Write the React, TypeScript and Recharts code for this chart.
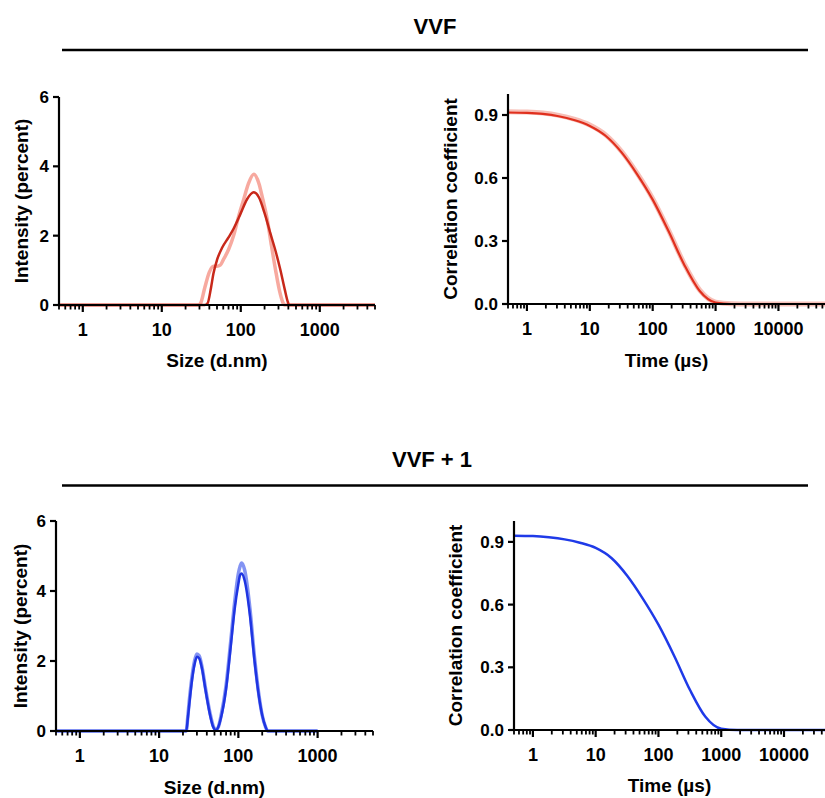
import React from 'react';
import { LineChart, Line, XAxis, YAxis } from 'recharts';

const FONT = '"Liberation Sans", Arial, Helvetica, sans-serif';

// ---- size distribution, VVF (replicates) ----
const vvfSizeA = [0.5, 35, 38, 42, 45, 50, 58, 70, 81, 100, 120, 146, 170, 200, 238, 280, 318, 360, 395, 410, 5000];
const vvfIntA = [0, 0, 0.05, 0.5, 0.9, 1.3, 1.65, 1.95, 2.2, 2.65, 3.05, 3.25, 3.1, 2.65, 2.05, 1.5, 1.0, 0.45, 0.08, 0, 0];
const vvfSizeB = [0.5, 29, 31, 35, 40, 45, 50, 55, 60, 70, 81, 95, 109, 125, 146, 170, 190, 215, 245, 276, 310, 340, 355, 5000];
const vvfIntB = [0, 0, 0.05, 0.5, 0.95, 1.12, 1.12, 1.15, 1.3, 1.6, 2.0, 2.6, 3.05, 3.5, 3.77, 3.5, 3.05, 2.5, 1.7, 1.0, 0.4, 0.08, 0, 0];

// ---- correlation, VVF ----
const vvfTime = [0.5, 1, 1.8, 3.2, 5.6, 10, 18, 32, 56, 100, 180, 320, 560, 1000, 1800, 3200, 55000];
const vvfCorrA = [0.912, 0.91, 0.905, 0.894, 0.876, 0.848, 0.8, 0.722, 0.62, 0.497, 0.345, 0.185, 0.062, 0.007, 0, 0, 0];
const vvfCorrB = [0.916, 0.914, 0.909, 0.898, 0.88, 0.852, 0.804, 0.726, 0.624, 0.501, 0.349, 0.189, 0.066, 0.009, 0.001, 0, 0];

// ---- size distribution, VVF + 1 ----
const cpxSize = [0.5, 22, 23, 24, 26, 28, 30, 32, 35, 38, 40, 44, 48, 52, 56, 60, 70, 80, 90, 100, 105, 110, 120, 140, 160, 180, 200, 220, 235, 1000];
const cpxIntA = [0, 0, 0.35, 0.75, 1.45, 1.9, 2.12, 2.08, 1.75, 1.25, 0.95, 0.45, 0.12, 0.02, 0.12, 0.35, 1.2, 2.4, 3.5, 4.2, 4.45, 4.5, 4.3, 3.3, 2.0, 1.05, 0.45, 0.12, 0, 0];
const cpxIntB = [0, 0, 0.4, 0.85, 1.55, 2.0, 2.2, 2.15, 1.8, 1.3, 1.0, 0.5, 0.15, 0.03, 0.12, 0.4, 1.3, 2.55, 3.7, 4.5, 4.7, 4.8, 4.6, 3.5, 2.1, 1.1, 0.45, 0.12, 0, 0];

// ---- correlation, VVF + 1 ----
const cpxTime = [0.5, 1, 1.8, 3.2, 5.6, 10, 18, 32, 56, 100, 180, 320, 560, 1000, 1800, 3200, 45000];
const cpxCorr = [0.93, 0.928, 0.922, 0.912, 0.896, 0.871, 0.822, 0.737, 0.63, 0.504, 0.352, 0.19, 0.063, 0.006, 0, 0, 0];

// ---- axis ticks ----
const sizeMajor = [1, 10, 100, 1000];
const timeMajor = [1, 10, 100, 1000, 10000];
const intensityTicks = [0, 2, 4, 6];
const corrTicks = [0, 0.3, 0.6, 0.9];

const withMinor = (majors: number[], lo: number, hi: number) => {
  const out: number[] = [];
  for (const m of [majors[0] / 10, ...majors]) {
    for (let k = 1; k <= 9; k++) {
      const t = +(m * k).toPrecision(6);
      if (t >= lo && t <= hi) out.push(t);
    }
  }
  return out;
};

const pts = (xs: number[], ys: number[]) => xs.map((x, i) => ({ x, y: ys[i] }));

function LogTick(props: any) {
  const { x, y, payload, majors } = props;
  const v = payload.value as number;
  const major = majors.includes(v);
  return (
    <g>
      <line x1={x} x2={x} y1={y} y2={y + (major ? 7 : 4.5)} stroke="#000" strokeWidth={major ? 2.2 : 1.8} />
      {major && (
        <text x={x} y={y + 31} textAnchor="middle" fontSize={18} fontWeight={700} fontFamily={FONT} fill="#000">
          {String(v)}
        </text>
      )}
    </g>
  );
}

interface Series {
  data: { x: number; y: number }[];
  color: string;
  width: number;
  opacity?: number;
}

interface PanelProps {
  left: number;
  top: number;
  width: number;
  height: number;
  marginTop: number;
  marginRight: number;
  yWidth: number;
  xDomain: [number, number];
  majors: number[];
  yDomain: [number, number];
  yTicks: number[];
  yFmt?: (v: number) => string;
  xLabel: string;
  yLabel: string;
  yLabelOffset: number;
  xLabelOffset: number;
  series: Series[];
}

function Panel(p: PanelProps) {
  const ticks = withMinor(p.majors, p.xDomain[0], p.xDomain[1]);
  return (
    <div style={{ position: 'absolute', left: p.left, top: p.top }}>
      <LineChart
        width={p.width}
        height={p.height}
        margin={{ top: p.marginTop, right: p.marginRight, bottom: 0, left: 0 }}
      >
        <XAxis
          type="number"
          scale="log"
          dataKey="x"
          domain={p.xDomain}
          ticks={ticks}
          interval={0}
          tickLine={false}
          tickSize={0}
          tickMargin={0}
          height={70}
          axisLine={{ stroke: '#000', strokeWidth: 2.2 }}
          tick={(tp: any) => <LogTick {...tp} majors={p.majors} />}
          label={{
            value: p.xLabel,
            position: 'insideBottom',
            offset: p.xLabelOffset,
            style: { fontSize: 19, fontWeight: 700, fill: '#000', fontFamily: FONT },
          }}
        />
        <YAxis
          type="number"
          domain={p.yDomain}
          ticks={p.yTicks}
          width={p.yWidth}
          tickSize={6}
          tickMargin={4}
          tickFormatter={p.yFmt}
          axisLine={{ stroke: '#000', strokeWidth: 2.2 }}
          tickLine={{ stroke: '#000', strokeWidth: 2.2 }}
          tick={{ fill: '#000', fontSize: 17, fontWeight: 700, fontFamily: FONT }}
          label={{
            value: p.yLabel,
            angle: -90,
            position: 'insideLeft',
            offset: p.yLabelOffset,
            style: { textAnchor: 'middle', fontSize: 19, fontWeight: 700, fill: '#000', fontFamily: FONT },
          }}
        />
        {p.series.map((s, i) => (
          <Line
            key={i}
            data={s.data}
            dataKey="y"
            type="monotone"
            stroke={s.color}
            strokeWidth={s.width}
            strokeOpacity={s.opacity ?? 1}
            dot={false}
            activeDot={false}
            isAnimationActive={false}
          />
        ))}
      </LineChart>
    </div>
  );
}

export default function App() {
  const fmt1 = (v: number) => v.toFixed(1);
  return (
    <div style={{ position: 'absolute', left: 0, top: 0, width: 825, height: 798, background: '#fff', fontFamily: FONT }}>
      <svg width={825} height={798} style={{ position: 'absolute', left: 0, top: 0 }}>
        <text x={435} y={33.5} textAnchor="middle" fontSize={22} fontWeight={700} fontFamily={FONT} fill="#000">
          VVF
        </text>
        <line x1={62} x2={808} y1={50} y2={50} stroke="#000" strokeWidth={2.5} />
        <text x={432} y={467} textAnchor="middle" fontSize={22} fontWeight={700} fontFamily={FONT} fill="#000">
          VVF + 1
        </text>
        <line x1={62} x2={808} y1={485.5} y2={485.5} stroke="#000" strokeWidth={2.5} />
      </svg>

      <Panel
        left={0}
        top={80}
        width={390}
        height={295}
        marginTop={17}
        marginRight={15}
        yWidth={59}
        xDomain={[0.5, 5000]}
        majors={sizeMajor}
        yDomain={[0, 6]}
        yTicks={intensityTicks}
        xLabel="Size (d.nm)"
        yLabel="Intensity (percent)"
        yLabelOffset={21}
        xLabelOffset={8}
        series={[
          { data: pts(vvfSizeB, vvfIntB), color: '#f6a095', width: 3.5, opacity: 0.9 },
          { data: pts(vvfSizeA, vvfIntA), color: '#c8281a', width: 2.5 },
        ]}
      />

      <Panel
        left={420}
        top={80}
        width={405}
        height={294}
        marginTop={14}
        marginRight={0}
        yWidth={88}
        xDomain={[0.5, 55000]}
        majors={timeMajor}
        yDomain={[0, 1]}
        yTicks={corrTicks}
        yFmt={fmt1}
        xLabel="Time (µs)"
        yLabel="Correlation coefficient"
        yLabelOffset={30}
        xLabelOffset={7}
        series={[
          { data: pts(vvfTime, vvfCorrB), color: '#f08a7c', width: 5, opacity: 0.55 },
          { data: pts(vvfTime, vvfCorrA), color: '#e0301e', width: 2.2 },
        ]}
      />

      <Panel
        left={0}
        top={500}
        width={388}
        height={301}
        marginTop={21}
        marginRight={15}
        yWidth={56}
        xDomain={[0.5, 5000]}
        majors={sizeMajor}
        yDomain={[0, 6]}
        yTicks={intensityTicks}
        xLabel="Size (d.nm)"
        yLabel="Intensity (percent)"
        yLabelOffset={20}
        xLabelOffset={7}
        series={[
          { data: pts(cpxSize, cpxIntB), color: '#6478f0', width: 3.5, opacity: 0.8 },
          { data: pts(cpxSize, cpxIntA), color: '#1f35e2', width: 2.5 },
        ]}
      />

      <Panel
        left={420}
        top={500}
        width={405}
        height={300}
        marginTop={21}
        marginRight={0}
        yWidth={94}
        xDomain={[0.5, 45000]}
        majors={timeMajor}
        yDomain={[0, 1]}
        yTicks={corrTicks}
        yFmt={fmt1}
        xLabel="Time (µs)"
        yLabel="Correlation coefficient"
        yLabelOffset={35}
        xLabelOffset={8}
        series={[{ data: pts(cpxTime, cpxCorr), color: '#1f3ae8', width: 2.5 }]}
      />
    </div>
  );
}
